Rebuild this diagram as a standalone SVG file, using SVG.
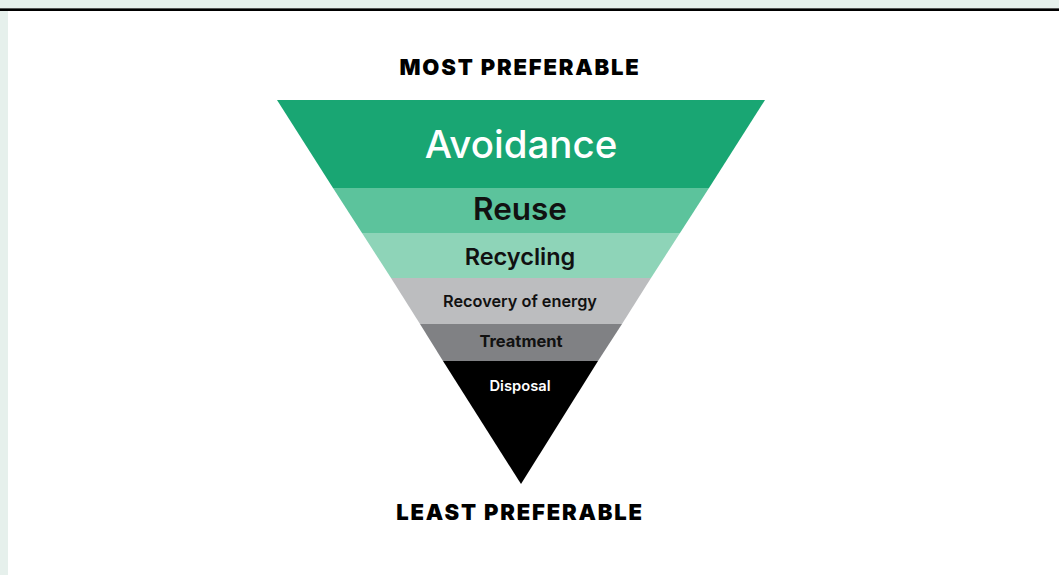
<svg xmlns="http://www.w3.org/2000/svg" width="1059" height="575" viewBox="0 0 1059 575">
<style>
text{font-family:Inter,"Liberation Sans",sans-serif;text-anchor:middle}
.h{font-weight:900;font-size:22px;fill:#000;letter-spacing:1.8px}
.l{font-weight:600;fill:#111}
</style>
<rect width="1059" height="575" fill="#ffffff"/>
<rect x="0" y="0" width="1059" height="8" fill="#e6f0ec"/>
<rect x="0" y="8" width="1059" height="1" fill="#555"/>
<rect x="0" y="9" width="1059" height="2" fill="#000"/>
<rect x="0" y="11" width="8" height="564" fill="#e6f0ec"/>
<g id="most"><text class="h" x="520" y="75">MOST PREFERABLE</text></g>
<g id="avoidance"><polygon points="277,100 765,100 709,188 333,188" fill="#19a673"/><text class="l" x="521" y="158" font-size="38.5" style="fill:#fff;font-weight:500">Avoidance</text></g>
<g id="reuse"><polygon points="333,188 709,188 680,233 362,233" fill="#5cc39c"/><text class="l" x="520" y="220" font-size="31.5">Reuse</text></g>
<g id="recycling"><polygon points="362,233 680,233 651,278 391,278" fill="#8ed4b8"/><text class="l" x="520" y="265" font-size="23.5">Recycling</text></g>
<g id="recovery"><polygon points="391,278 651,278 622,324 420,324" fill="#bcbdbf"/><text class="l" x="520" y="307" font-size="16.3">Recovery of energy</text></g>
<g id="treatment"><polygon points="420,324 622,324 598,361 443,361" fill="#808184"/><text class="l" x="521" y="347" font-size="16.5" style="font-weight:700">Treatment</text></g>
<g id="disposal"><polygon points="443,361 598,361 521,484" fill="#000"/><text class="l" x="520" y="391" font-size="14.7" style="fill:#fff">Disposal</text></g>
<g id="least"><text class="h" x="520" y="520">LEAST PREFERABLE</text></g>
<g id="connectors"/>
</svg>
